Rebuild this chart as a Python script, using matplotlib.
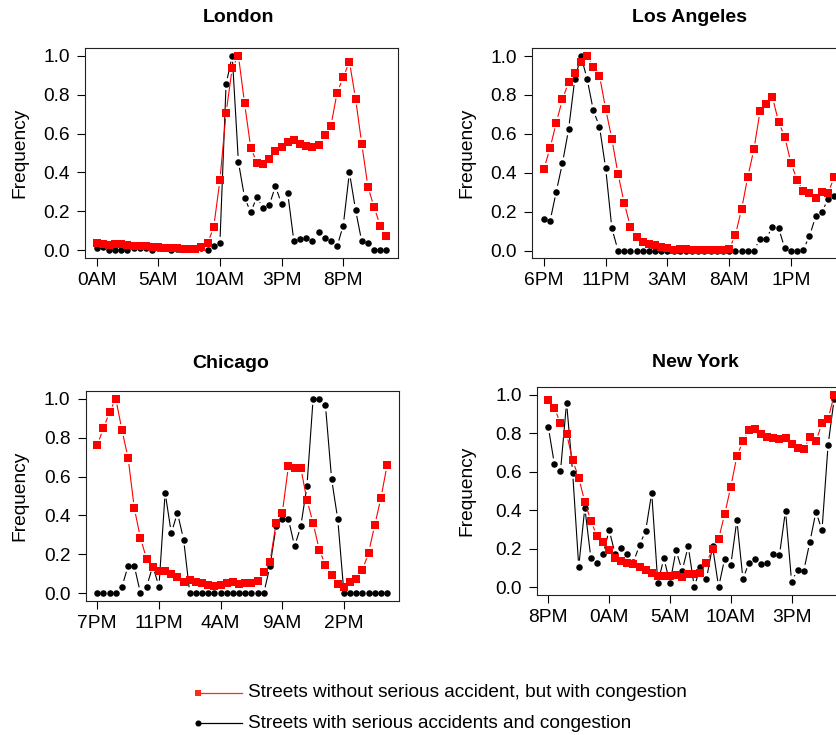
import matplotlib
matplotlib.use("Agg")
import numpy as np
import matplotlib.pyplot as plt
from matplotlib.collections import LineCollection
from matplotlib.lines import Line2D

plt.rcParams['font.family'] = ['Liberation Sans', 'DejaVu Sans']

# half-hour slots over one day (hours since the first slot of each city)
hours = np.arange(48) * 0.5

tick_hours = [0, 5, 10, 15, 20]
y_ticks = [0.0, 0.2, 0.4, 0.6, 0.8, 1.0]

london_labels = ["0AM", "5AM", "10AM", "3PM", "8PM"]
la_labels = ["6PM", "11PM", "3AM", "8AM", "1PM"]
chicago_labels = ["7PM", "11PM", "4AM", "9AM", "2PM"]
newyork_labels = ["8PM", "0AM", "5AM", "10AM", "3PM"]

# congestion without serious accident (red)
london_congestion = [
    0.038, 0.030, 0.026, 0.030, 0.030, 0.026, 0.022, 0.020, 0.020, 0.018,
    0.016, 0.014, 0.012, 0.010, 0.007, 0.005, 0.005, 0.015, 0.035, 0.120,
    0.360, 0.707, 0.938, 1.000, 0.755, 0.527, 0.450, 0.445, 0.470, 0.508,
    0.530, 0.555, 0.565, 0.545, 0.538, 0.530, 0.543, 0.594, 0.640, 0.810,
    0.889, 0.970, 0.779, 0.548, 0.327, 0.221, 0.127, 0.075]
la_congestion = [
    0.420, 0.527, 0.658, 0.777, 0.866, 0.911, 0.969, 1.000, 0.943, 0.900,
    0.728, 0.574, 0.394, 0.245, 0.123, 0.070, 0.045, 0.034, 0.027, 0.017,
    0.014, 0.005, 0.010, 0.010, 0.005, 0.004, 0.004, 0.004, 0.004, 0.004,
    0.008, 0.080, 0.212, 0.377, 0.520, 0.717, 0.753, 0.789, 0.661, 0.584,
    0.450, 0.363, 0.305, 0.295, 0.270, 0.300, 0.295, 0.377]
chicago_congestion = [
    0.762, 0.849, 0.932, 1.000, 0.839, 0.695, 0.438, 0.284, 0.176, 0.135,
    0.112, 0.112, 0.099, 0.084, 0.060, 0.068, 0.060, 0.053, 0.041, 0.036,
    0.041, 0.053, 0.060, 0.050, 0.055, 0.055, 0.063, 0.108, 0.161, 0.361,
    0.413, 0.654, 0.642, 0.644, 0.479, 0.361, 0.223, 0.146, 0.094, 0.045,
    0.033, 0.058, 0.074, 0.120, 0.209, 0.351, 0.490, 0.659]
newyork_congestion = [
    0.972, 0.932, 0.852, 0.799, 0.660, 0.568, 0.443, 0.344, 0.266, 0.233,
    0.193, 0.151, 0.134, 0.125, 0.120, 0.104, 0.090, 0.073, 0.059, 0.059,
    0.059, 0.064, 0.052, 0.069, 0.069, 0.075, 0.125, 0.198, 0.250, 0.380,
    0.521, 0.681, 0.759, 0.816, 0.823, 0.797, 0.781, 0.776, 0.771, 0.776,
    0.747, 0.724, 0.719, 0.780, 0.759, 0.852, 0.875, 1.000]

# serious accidents with congestion (black)
london_accident = [
    0.012, 0.015, 0.000, 0.000, 0.000, 0.000, 0.012, 0.012, 0.012, 0.000,
    0.010, 0.010, 0.000, 0.008, 0.005, 0.004, 0.004, 0.010, 0.000, 0.024,
    0.038, 0.855, 1.000, 0.454, 0.270, 0.195, 0.274, 0.216, 0.231, 0.329,
    0.238, 0.293, 0.045, 0.057, 0.063, 0.046, 0.096, 0.062, 0.046, 0.020,
    0.127, 0.400, 0.207, 0.045, 0.036, 0.000, 0.000, 0.000]
la_accident = [
    0.163, 0.152, 0.303, 0.449, 0.623, 0.882, 1.000, 0.882, 0.721, 0.637,
    0.423, 0.115, 0.000, 0.000, 0.000, 0.000, 0.000, 0.000, 0.000, 0.000,
    0.000, 0.000, 0.000, 0.000, 0.000, 0.000, 0.000, 0.000, 0.000, 0.000,
    0.000, 0.000, 0.000, 0.000, 0.000, 0.060, 0.060, 0.123, 0.115, 0.012,
    0.000, 0.000, 0.005, 0.074, 0.175, 0.197, 0.264, 0.280]
chicago_accident = [
    0.000, 0.000, 0.000, 0.000, 0.034, 0.140, 0.140, 0.000, 0.034, 0.140,
    0.034, 0.517, 0.310, 0.413, 0.276, 0.000, 0.000, 0.000, 0.000, 0.000,
    0.000, 0.000, 0.000, 0.000, 0.000, 0.000, 0.000, 0.000, 0.139, 0.344,
    0.380, 0.380, 0.241, 0.344, 0.551, 1.000, 1.000, 0.966, 0.587, 0.380,
    0.000, 0.000, 0.000, 0.000, 0.000, 0.000, 0.000, 0.000]
newyork_accident = [
    0.832, 0.639, 0.604, 0.960, 0.595, 0.106, 0.413, 0.149, 0.127, 0.170,
    0.297, 0.170, 0.205, 0.170, 0.130, 0.219, 0.292, 0.490, 0.021, 0.149,
    0.021, 0.191, 0.085, 0.212, 0.000, 0.106, 0.042, 0.212, 0.000, 0.148,
    0.114, 0.348, 0.042, 0.127, 0.148, 0.121, 0.127, 0.170, 0.165, 0.398,
    0.028, 0.090, 0.085, 0.234, 0.391, 0.297, 0.740, 0.980]

W, H = 836, 735
fig = plt.figure(figsize=(W / 100, H / 100), dpi=100)


def px_rect(left, top, width, height):
    return [left / W, 1 - (top + height) / H, width / W, height / H]


def draw_series(ax, x, y, color, marker, ms, z, gap=6.0):
    """Points joined by segments that stop short of each marker."""
    trans = ax.transData
    inv = trans.inverted()
    pts = trans.transform(np.column_stack([x, y]))
    segs = []
    for p0, p1 in zip(pts[:-1], pts[1:]):
        d = p1 - p0
        length = np.hypot(d[0], d[1])
        if length > 2 * gap + 0.5:
            u = d / length
            segs.append(inv.transform(np.array([p0 + u * gap, p1 - u * gap])))
    ax.add_collection(LineCollection(segs, colors=color, linewidths=0.8,
                                     zorder=z, capstyle='butt'))
    ax.plot(x, y, linestyle='none', marker=marker, markersize=ms,
            markerfacecolor=color, markeredgewidth=0, color=color,
            zorder=z + 0.5, clip_on=False)


panels = [
    ("London", london_labels, london_congestion, london_accident,
     (85, 48, 313, 210), (238, 18), (20, 153)),
    ("Los Angeles", la_labels, la_congestion, la_accident,
     (532.3, 48.3, 313.5, 210), (689, 18), (467, 153)),
    ("Chicago", chicago_labels, chicago_congestion, chicago_accident,
     (85.7, 391, 313, 210), (231, 364), (20, 496)),
    ("New York", newyork_labels, newyork_congestion, newyork_accident,
     (536.9, 387.3, 308.7, 207.4), (695, 363), (467, 491)),
]

for title, xlabels, red_vals, black_vals, rect, tpos, ypos in panels:
    ax = fig.add_axes(px_rect(*rect))
    ax.set_xlim(-0.94, 23.5 + 0.94)
    ax.set_ylim(-0.04, 1.04)
    ax.set_xticks(tick_hours)
    ax.set_xticklabels(xlabels)
    ax.set_yticks(y_ticks)
    ax.set_yticklabels([f"{v:.1f}" for v in y_ticks])
    ax.tick_params(direction='out', length=5.5, width=0.8, labelsize=13.8,
                   colors='black', pad=4.5)
    ax.tick_params(axis='y', pad=5.5)
    for sp in ax.spines.values():
        sp.set_linewidth(0.8)
        sp.set_color('#222222')
    draw_series(ax, hours, black_vals, 'black', 'o', 4.7, 2)
    draw_series(ax, hours, red_vals, '#ff0000', 's', 5.1, 3)
    fig.text(tpos[0] / W, 1 - tpos[1] / H, title, ha='center', va='center',
             fontsize=14, fontweight='bold')
    fig.text(ypos[0] / W, 1 - ypos[1] / H, "Frequency", ha='center',
             va='center', rotation=90, fontsize=13.8)

# legend below the panels
legend_rows = [
    ('#ff2a1a', 's', 4.8, "Streets without serious accident, but with congestion", 692.7),
    ('black', 'o', 4.4, "Streets with serious accidents and congestion", 723.3),
]
for color, marker, ms, text, ypx in legend_rows:
    yf = 1 - ypx / H
    fig.add_artist(Line2D([198 / W, 242 / W], [yf, yf], color=color, lw=0.9))
    fig.add_artist(Line2D([198 / W], [yf], color=color, marker=marker,
                          markersize=ms, markeredgewidth=0, linestyle='none'))
    fig.text(248 / W, yf, text, ha='left', va='center', fontsize=13.7)

fig.savefig("out.png", dpi=100)
